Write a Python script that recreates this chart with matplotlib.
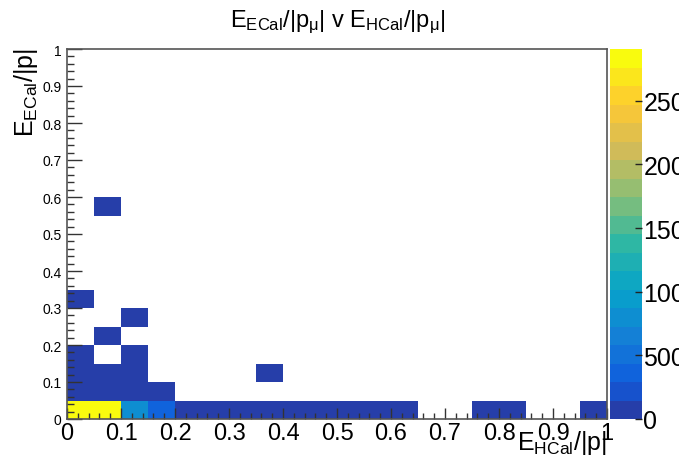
import matplotlib
matplotlib.use('Agg')
import matplotlib.pyplot as plt
from matplotlib.colors import ListedColormap, BoundaryNorm
import numpy as np

plt.rcParams['font.family'] = ['Liberation Sans', 'DejaVu Sans']
plt.rcParams['mathtext.fontset'] = 'custom'
plt.rcParams['mathtext.rm'] = 'Liberation Sans'
plt.rcParams['mathtext.it'] = 'Liberation Sans'
plt.rcParams['mathtext.default'] = 'regular'

# filled bins: E_HCal/|p| bin centre, E_ECal/|p| bin centre, entries
hcal = [0.025, 0.075, 0.125, 0.175, 0.225, 0.275, 0.325, 0.375, 0.425, 0.475,
        0.525, 0.575, 0.625, 0.775, 0.825, 0.975,
        0.025, 0.075, 0.125, 0.175,
        0.025, 0.075, 0.125, 0.375,
        0.025, 0.125,
        0.075, 0.125, 0.025, 0.075]
ecal = [0.025]*16 + [0.075]*4 + [0.125]*4 + [0.175]*2 + [0.225, 0.275, 0.325, 0.575]
counts = [2906, 2830, 820, 350, 120, 85, 60, 42, 30, 22,
          15, 10, 6, 3, 2, 4,
          95, 70, 30, 8,
          40, 25, 6, 1,
          12, 2,
          2, 1, 3, 1]

edges = np.linspace(0, 1, 21)
zmax = 2906
ncont = 20

# ROOT kBird palette
stops = [0.0, 0.125, 0.25, 0.375, 0.5, 0.625, 0.75, 0.875, 1.0]
red = [0.2082, 0.0592, 0.0780, 0.0232, 0.1802, 0.5301, 0.8186, 0.9956, 0.9764]
green = [0.1664, 0.3599, 0.5041, 0.6419, 0.7178, 0.7492, 0.7328, 0.7862, 0.9832]
blue = [0.5293, 0.8684, 0.8385, 0.7914, 0.6425, 0.4662, 0.3499, 0.1968, 0.0539]
f = (np.arange(ncont) + 0.99) / ncont
cols = np.column_stack([np.interp(f, stops, red), np.interp(f, stops, green), np.interp(f, stops, blue)])
cmap = ListedColormap(cols)
norm = BoundaryNorm(np.linspace(0, zmax, ncont + 1), ncont)

H, xe, ye = np.histogram2d(hcal, ecal, bins=[edges, edges], weights=counts)
H = np.ma.masked_where(H <= 0, H)

fig = plt.figure(figsize=(6.79, 4.60), dpi=100)
ax = fig.add_axes([67/679, 40/460, 540/679, 370/460])
cax = fig.add_axes([610/679, 40/460, 32/679, 370/460])

mesh = ax.pcolormesh(xe, ye, H.T, cmap=cmap, norm=norm)
ax.set_xlim(0, 1)
ax.set_ylim(0, 1)

fc = '#555555'
for s in ax.spines.values():
    s.set_color(fc)
    s.set_linewidth(1.2)

ticks = np.round(np.arange(0, 1.01, 0.1), 1)
labels = ['0'] + ['%.1f' % t for t in ticks[1:-1]] + ['1']
ax.set_xticks(ticks)
ax.set_xticklabels(labels)
ax.set_yticks(ticks)
ax.set_yticklabels(labels)
ax.set_xticks(np.arange(0, 1.001, 0.02), minor=True)
ax.set_yticks(np.arange(0, 1.001, 0.02), minor=True)
ax.tick_params(axis='x', which='major', direction='in', length=8, width=1, color='#333333',
               labelsize=17, pad=2)
ax.tick_params(axis='x', which='minor', direction='in', length=4, width=1, color='#333333')
ax.tick_params(axis='y', which='major', direction='in', length=11, width=1, color='#333333',
               labelsize=10, pad=4)
ax.tick_params(axis='y', which='minor', direction='in', length=5, width=1, color='#333333')

cb = fig.colorbar(mesh, cax=cax, ticks=[0, 500, 1000, 1500, 2000, 2500])
cb.outline.set_visible(False)
cax.tick_params(direction='in', length=5, width=1, color='#222222', labelsize=18, pad=1)
cax.minorticks_off()

fig.text(338/679, 1 - 27/460, r'$E_{ECal}/|p_{\mu}|$ v $E_{HCal}/|p_{\mu}|$',
         ha='center', va='baseline', fontsize=17)
fig.text(607/679, 10/460, r'$E_{HCal}/|p|$', ha='right', va='baseline', fontsize=18)
fig.text(12/679, 1 - 48/460, r'$E_{ECal}/|p|$', ha='left', va='top', rotation=90, fontsize=18)

fig.savefig('out.png', dpi=100)
